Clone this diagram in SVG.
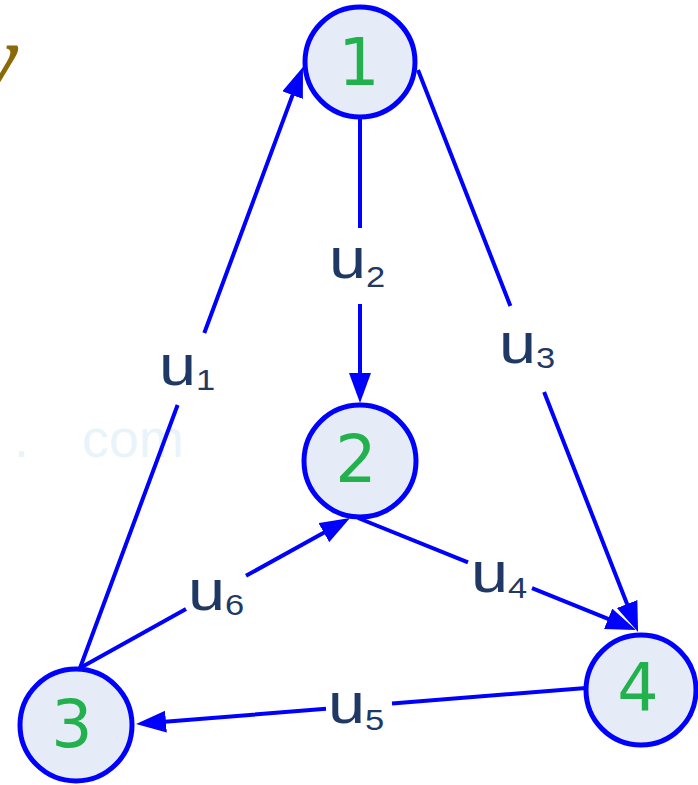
<svg xmlns="http://www.w3.org/2000/svg" width="698" height="785" viewBox="0 0 698 785">
  <style>
    .node circle { fill: #e6ecf7; stroke: #0000ff; stroke-width: 5; }
    .node text { font-family: "DejaVu Sans", sans-serif; font-size: 65px; fill: #22b14c; text-anchor: middle; }
    .edge { fill: none; stroke: #0000ff; stroke-width: 4; marker-end: url(#arrow); }
    .lbl { font-family: "Liberation Sans", Arial, sans-serif; font-size: 58px; fill: #1f3864; }
    .sub { font-size: 30px; }
  </style>
  <defs>
    <marker id="arrow" markerUnits="userSpaceOnUse" markerWidth="32" markerHeight="24" refX="20" refY="11" orient="auto">
      <path d="M0,0 L30,11 L0,22 Z" fill="#0000ff"/>
    </marker>
  </defs>
  <rect width="698" height="785" fill="#ffffff"/>
  <text x="-22" y="88" font-family="Liberation Serif, serif" font-weight="bold" font-style="italic" font-size="90" fill="#8a6a08">y</text>
  <text y="457" font-family="Liberation Sans, sans-serif" font-size="54" fill="#e8f3fa"><tspan x="14">.</tspan><tspan x="82">com</tspan></text>

  <g id="connectors">
    <path id="u1" class="edge" d="M80,668 L177.6,405 M204.3,333 L299.5,76.4"/>
    <path id="u2" class="edge" d="M360,119 L360,228 M360,304 L360,393"/>
    <path id="u3" class="edge" d="M418,70 L510.4,306 M544.1,392 L634.4,622.7"/>
    <path id="u4" class="edge" d="M358,518 L468,562.3 M532,588.1 L626.7,626.3"/>
    <path id="u5" class="edge" d="M586,688 L392,703.5 M326,708.8 L146,723.2"/>
    <path id="u6" class="edge" d="M80,668 L186,609.1 M246,575.8 L341.3,522.9"/>
    <g id="labels">
      <text class="lbl" transform="translate(159,385) scale(1.15,1)">u<tspan class="sub" dy="5">1</tspan></text>
      <text class="lbl" transform="translate(329,278) scale(1.15,1)">u<tspan class="sub" dy="9">2</tspan></text>
      <text class="lbl" transform="translate(499,363) scale(1.15,1)">u<tspan class="sub" dy="5">3</tspan></text>
      <text class="lbl" transform="translate(471,592) scale(1.15,1)">u<tspan class="sub" dy="6">4</tspan></text>
      <text class="lbl" transform="translate(328,723) scale(1.15,1)">u<tspan class="sub" dy="7">5</tspan></text>
      <text class="lbl" transform="translate(188,610) scale(1.15,1)">u<tspan class="sub" dy="5">6</tspan></text>
    </g>
  </g>

  <g id="node1" class="node">
    <circle cx="360" cy="62" r="55"/>
    <text x="359" y="85">1</text>
  </g>
  <g id="node2" class="node">
    <circle cx="360" cy="461" r="56"/>
    <text x="356" y="482">2</text>
  </g>
  <g id="node3" class="node">
    <circle cx="76" cy="725" r="56"/>
    <text x="72" y="747">3</text>
  </g>
  <g id="node4" class="node">
    <circle cx="641" cy="690" r="55"/>
    <text x="638" y="710">4</text>
  </g>
</svg>
